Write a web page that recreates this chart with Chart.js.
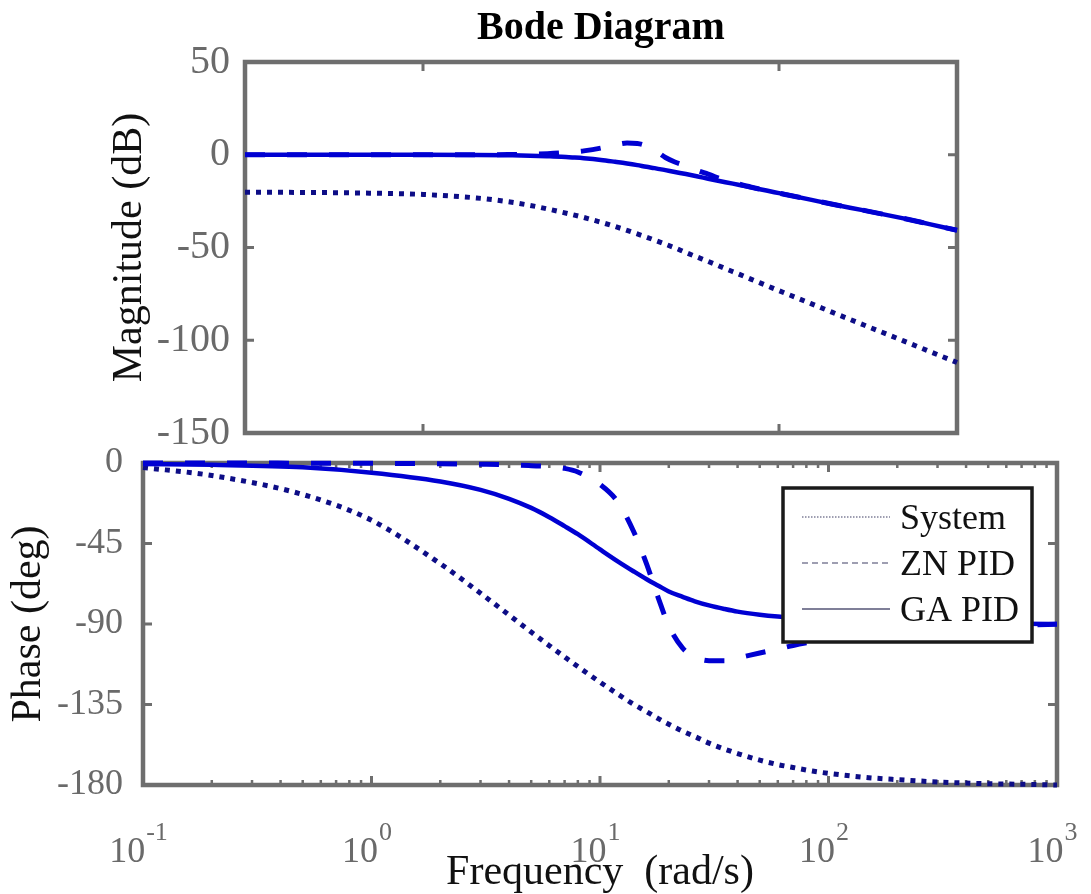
<!DOCTYPE html>
<html lang="en">
<head>
<meta charset="UTF-8">
<title>Bode Diagram</title>
<style>
  body { margin: 0; background: #fff; }
  .wrap { position: relative; width: 1091px; height: 894px; }
  .wrap canvas { position: absolute; left: 0; top: 0; }
</style>
</head>
<body>
<div class="wrap">
  <canvas id="phaseChart" width="1091" height="894"></canvas>
  <canvas id="magChart" width="1091" height="894"></canvas>
</div>

<script src="https://cdn.jsdelivr.net/npm/chart.js"></script>
<script>
const freq = [0.1, 0.2, 0.5, 1, 2, 3, 4, 5, 6, 7, 8, 10, 12, 14, 16, 18, 20, 23, 26, 30,
              35, 40, 50, 60, 70, 85, 100, 150, 200, 300, 500, 700, 1000];

const seriesNames = ['System', 'ZN PID', 'GA PID'];

// magnitude, dB
const magSystem = [-20.2, -20.3, -20.7, -21.4, -23.3, -25.3, -27.3, -29.2, -30.9, -32.4, -33.8, -36.4, -38.7, -40.8, -42.7, -44.4, -46, -48.2, -50.2, -52.7,
                   -55.3, -57.5, -61.4, -64.5, -67.2, -70.5, -73.3, -80.1, -85, -91.8, -100.3, -106, -112];
const magZN = [0, 0, 0, 0, 0, 0.1, 0.3, 0.6, 1.0, 1.5, 2.1, 3.6, 5.3, 6.3, 6.1, 4.8, 2.5, -1.5, -3.9, -6.0,
               -8.6, -10.5, -13.9, -15.9, -17.5, -19.3, -20.7, -24.2, -26.7, -30.0, -34.3, -37.4, -40.7];
const magGA = [0, 0, 0, 0, -0.1, -0.3, -0.5, -0.8, -1.1, -1.5, -1.9, -2.8, -3.8, -4.7, -5.6, -6.5, -7.2, -8.3, -9.3, -10.4,
               -11.7, -12.9, -14.8, -16.3, -17.6, -19.3, -20.7, -24.2, -26.7, -30.0, -34.3, -37.4, -40.7];

// phase, deg
const phaseSystem = [-2.5, -7, -17.6, -32, -56.3, -72.8, -85, -94.5, -102.1, -108.4, -113.8, -122.5, -129.3, -134.8, -139, -142.9, -146, -149.9, -152.9, -156.6,
                     -159.9, -162.4, -166.1, -168.6, -170.2, -172.2, -173.5, -175.9, -177, -178.3, -179.3, -179.6, -180];
const phaseZN = [0, 0, -0.1, -0.2, -0.4, -0.7, -1, -1.5, -2, -3, -5, -12, -22, -38, -56.5, -75.5, -91, -103.5, -108.5, -110.5,
                 -110.5, -109, -106.2, -104, -102, -100, -98.6, -95.4, -93.8, -92.2, -91, -90.5, -90.2];
const phaseGA = [-0.5, -1, -2.4, -5.4, -10.3, -15, -20, -25.1, -30.3, -35.3, -39.8, -48.3, -55.1, -60.5, -65, -68.6, -71.8, -74.8, -77.3, -79.6,
                 -81.6, -83.1, -84.8, -85.8, -86.4, -87, -87.5, -88.2, -88.7, -89.1, -89.6, -89.8, -90];

// axis ticks
const magTicks = [-150, -100, -50, 0, 50];
const phaseTicks = [-180, -135, -90, -45, 0];
const magFreqTicks = [1, 100];
const freqTicks = [0.1, 1, 10, 100, 1000];
const freqTickExp = ['-1', '0', '1', '2', '3'];

const minorTicks = [];
for (let d = 0.1; d < 1000; d *= 10) {
    for (let k = 2; k <= 9; k++) minorTicks.push(+(k * d).toPrecision(3));
}

const serif = "'Liberation Serif', 'Times New Roman', serif";
const gray = '#6e6e6e';
const tickGray = '#6a6a6a';
const blue = '#0000d2';
const navy = '#0d0d86';

function points(ys) {
    return freq.map((f, i) => ({ x: f, y: ys[i] }));
}

function datasets(sys, zn, ga) {
    const common = { pointRadius: 0, borderCapStyle: 'butt', cubicInterpolationMode: 'monotone', clip: 8, fill: false };
    return [
        { ...common, label: seriesNames[0], data: points(sys), borderColor: navy, borderWidth: 5, borderDash: [5, 6], order: 2 },
        { ...common, label: seriesNames[1], data: points(zn), borderColor: blue, borderWidth: 5, borderDash: [20, 22], order: 1 },
        { ...common, label: seriesNames[2], data: points(ga), borderColor: blue, borderWidth: 4.5, order: 0 }
    ];
}

// box around the plot area with ticks pointing inwards (drawn under the curves)
function frame(major, minor) {
    return {
        id: 'frame',
        beforeDatasetsDraw(chart) {
            const { ctx, chartArea: a, scales } = chart;
            ctx.save();
            ctx.strokeStyle = gray;
            ctx.lineWidth = 4.5;
            ctx.strokeRect(a.left, a.top, a.right - a.left, a.bottom - a.top);

            ctx.lineWidth = 3;
            ctx.beginPath();
            scales.y.ticks.forEach(t => {
                const py = scales.y.getPixelForValue(t.value);
                ctx.moveTo(a.left, py); ctx.lineTo(a.left + 9, py);
                ctx.moveTo(a.right, py); ctx.lineTo(a.right - 9, py);
            });
            major.forEach(v => {
                const px = scales.x.getPixelForValue(v);
                ctx.moveTo(px, a.bottom); ctx.lineTo(px, a.bottom - 9);
                ctx.moveTo(px, a.top); ctx.lineTo(px, a.top + 9);
            });
            ctx.stroke();

            ctx.lineWidth = 2.5;
            ctx.beginPath();
            minor.forEach(v => {
                const px = scales.x.getPixelForValue(v);
                ctx.moveTo(px, a.bottom); ctx.lineTo(px, a.bottom - 5);
                ctx.moveTo(px, a.top); ctx.lineTo(px, a.top + 5);
            });
            ctx.stroke();
            ctx.restore();
        }
    };
}

// 10^n labels under the frequency axis
const powerLabels = {
    id: 'powerLabels',
    afterDraw(chart) {
        const { ctx, chartArea: a, scales } = chart;
        ctx.save();
        ctx.fillStyle = tickGray;
        ctx.textBaseline = 'alphabetic';
        ctx.textAlign = 'left';
        freqTicks.forEach((v, i) => {
            const px = scales.x.getPixelForValue(v);
            ctx.font = '36px ' + serif;
            const w1 = ctx.measureText('10').width;
            ctx.font = '26px ' + serif;
            const w2 = ctx.measureText(freqTickExp[i]).width;
            const x0 = px - (w1 + w2) / 2 - 5;
            ctx.font = '36px ' + serif;
            ctx.fillText('10', x0, a.bottom + 77);
            ctx.font = '26px ' + serif;
            ctx.fillText(freqTickExp[i], x0 + w1 + 1, a.bottom + 55);
        });
        ctx.restore();
    }
};

// legend box in the upper right of the phase plot
const boxLegend = {
    id: 'boxLegend',
    afterDraw(chart) {
        const { ctx, chartArea: a } = chart;
        const w = 249, h = 154;
        const left = a.right - 25 - w, top = a.top + 25;
        ctx.save();
        ctx.fillStyle = '#fff';
        ctx.fillRect(left, top, w, h);
        ctx.strokeStyle = '#1a1a1a';
        ctx.lineWidth = 3.5;
        ctx.strokeRect(left, top, w, h);

        const dashes = [[1.5, 1.5], [6, 4], []];
        const rows = [32, 78, 124];
        ctx.font = '36px ' + serif;
        ctx.textBaseline = 'middle';
        ctx.textAlign = 'left';
        chart.data.datasets.forEach((ds, i) => {
            const y = top + rows[i];
            ctx.strokeStyle = '#7f7f98';
            ctx.lineWidth = i === 2 ? 2 : 1.5;
            ctx.setLineDash(dashes[i]);
            ctx.beginPath();
            ctx.moveTo(left + 19, y - 3);
            ctx.lineTo(left + 107, y - 3);
            ctx.stroke();
            ctx.setLineDash([]);
            ctx.fillStyle = '#111';
            ctx.fillText(ds.label, left + 117, y);
        });
        ctx.restore();
    }
};

function yAxis(ticks, min, max, width, labelPad, title, titlePad, fontSize) {
    return {
        type: 'linear',
        position: 'left',
        min: min,
        max: max,
        afterBuildTicks: axis => { axis.ticks = ticks.map(v => ({ value: v })); },
        afterFit: axis => { axis.width = width; },
        grid: { display: false, drawTicks: false },
        border: { display: false },
        ticks: {
            color: tickGray,
            padding: labelPad,
            font: { family: serif, size: fontSize, lineHeight: 1.2 },
            callback: v => String(v)
        },
        title: {
            display: true,
            text: title,
            color: '#111',
            font: { family: serif, size: 42, lineHeight: 1.2 },
            padding: { top: titlePad, bottom: 0 }
        }
    };
}

new Chart(document.getElementById('magChart'), {
    type: 'line',
    data: { datasets: datasets(magSystem, magZN, magGA) },
    options: {
        responsive: false,
        animation: false,
        events: [],
        layout: { padding: { top: 0, left: 0, right: 134, bottom: 461 } },
        plugins: {
            legend: { display: false },
            tooltip: { enabled: false },
            title: {
                display: true,
                text: 'Bode Diagram',
                color: '#000',
                fullSize: false,
                font: { family: serif, size: 40, weight: 'bold', lineHeight: 1.2 },
                padding: { top: 5, bottom: 9 }
            }
        },
        scales: {
            x: { type: 'logarithmic', min: 0.1, max: 1000, display: false },
            y: yAxis(magTicks, -150, 50, 245, 15, 'Magnitude (dB)', 105, 40)
        }
    },
    plugins: [frame(magFreqTicks, [])]
});

new Chart(document.getElementById('phaseChart'), {
    type: 'line',
    data: { datasets: datasets(phaseSystem, phaseZN, phaseGA) },
    options: {
        responsive: false,
        animation: false,
        events: [],
        layout: { padding: { top: 463, left: 0, right: 34, bottom: 0 } },
        plugins: {
            legend: { display: false },
            tooltip: { enabled: false }
        },
        scales: {
            x: {
                type: 'logarithmic',
                min: 0.1,
                max: 1000,
                afterFit: axis => { axis.height = 109; },
                grid: { display: false, drawTicks: false },
                border: { display: false },
                ticks: { display: false },
                title: {
                    display: true,
                    text: 'Frequency  (rad/s)',
                    color: '#111',
                    font: { family: serif, size: 42, lineHeight: 1 },
                    padding: { top: 0, bottom: 0 }
                }
            },
            y: yAxis(phaseTicks, -180, 0, 143, 20, 'Phase (deg)', 4, 36)
        }
    },
    plugins: [frame(freqTicks, minorTicks), powerLabels, boxLegend]
});
</script>
</body>
</html>
